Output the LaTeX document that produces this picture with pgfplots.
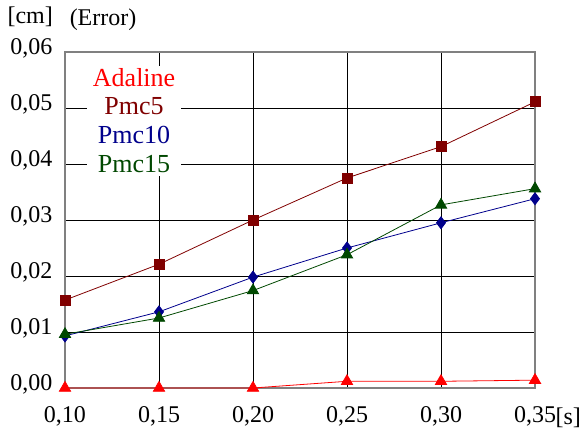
\documentclass[border=0pt]{standalone}
\usepackage{pgfplots}
\pgfplotsset{compat=1.18}
\usepackage{fontspec}
\setmainfont{Liberation Serif}
\usetikzlibrary{calc}
\definecolor{cadal}{RGB}{255,0,0}
\definecolor{cpmc5}{RGB}{128,0,0}
\definecolor{cpmc10}{RGB}{0,0,140}
\definecolor{cpmc15}{RGB}{0,72,0}
\begin{document}
\begin{tikzpicture}
  \begin{axis}[
      name=ax,
      scale only axis,
      width=470pt, height=336pt,
      xmin=0.1, xmax=0.35,
      ymin=0, ymax=0.06,
      clip=false,
      xtick={0.10,0.15,0.20,0.25,0.30,0.35},
      ytick={0,0.01,0.02,0.03,0.04,0.05,0.06},
      /pgf/number format/use comma,
      /pgf/number format/fixed,
      /pgf/number format/fixed zerofill,
      /pgf/number format/precision=2,
      /pgf/number format/assume math mode=true,
      scaled ticks=false,
      grid=major,
      major grid style={black, line width=0.7pt},
      axis line style={gray, line width=1.2pt},
      major tick length=0pt,
      ticklabel style={font=\fontsize{24}{28}\selectfont},
      xticklabel style={yshift=-15pt},
      yticklabel style={xshift=-9pt, yshift=4pt},
      legend image code/.code={},
      legend style={at={(0.147,0.795)}, anchor=center, draw=none, fill=white,
        font=\fontsize{26}{29}\selectfont, cells={anchor=center},
        inner xsep=4pt, inner ysep=0pt, row sep=6pt},
      every axis plot/.append style={line width=0.8pt},
    ]
    \addplot[color=cadal, mark=triangle*, mark size=6.5pt] coordinates {
      (0.10, 0.0000) (0.15, 0.0000) (0.20, 0.0000)
      (0.25, 0.0012) (0.30, 0.0012) (0.35, 0.0014)
    };
    \addlegendentry{\textcolor{cadal}{Adaline}}
    \addplot[color=cpmc5, mark=square*, mark size=5pt] coordinates {
      (0.10, 0.0157) (0.15, 0.0221) (0.20, 0.0300)
      (0.25, 0.0375) (0.30, 0.0431) (0.35, 0.0511)
    };
    \addlegendentry{\textcolor{cpmc5}{Pmc5}}
    \addplot[color=cpmc10, mark=diamond*, mark size=6pt] coordinates {
      (0.10, 0.0093) (0.15, 0.0136) (0.20, 0.0198)
      (0.25, 0.0250) (0.30, 0.0295) (0.35, 0.0338)
    };
    \addlegendentry{\textcolor{cpmc10}{Pmc10}}
    \addplot[color=cpmc15, mark=triangle*, mark size=6.5pt] coordinates {
      (0.10, 0.0096) (0.15, 0.0125) (0.20, 0.0174)
      (0.25, 0.0238) (0.30, 0.0327) (0.35, 0.0356)
    };
    \addlegendentry{\textcolor{cpmc15}{Pmc15}}
    \node[font=\fontsize{24}{28}\selectfont, anchor=center] at (rel axis cs:-0.074,1.105) {[cm]};
    \node[font=\fontsize{24}{28}\selectfont, anchor=center] at (rel axis cs:0.081,1.095) {(Error)};
    \node[font=\fontsize{24}{28}\selectfont, anchor=base east, inner sep=0pt] at (rel axis cs:1.098,-0.110) {[s]};
  \end{axis}
  \pgfresetboundingbox
  \path ($(ax.south west)+(-65pt,-43pt)$) rectangle ($(ax.north east)+(50pt,52pt)$);
\end{tikzpicture}
\end{document}
